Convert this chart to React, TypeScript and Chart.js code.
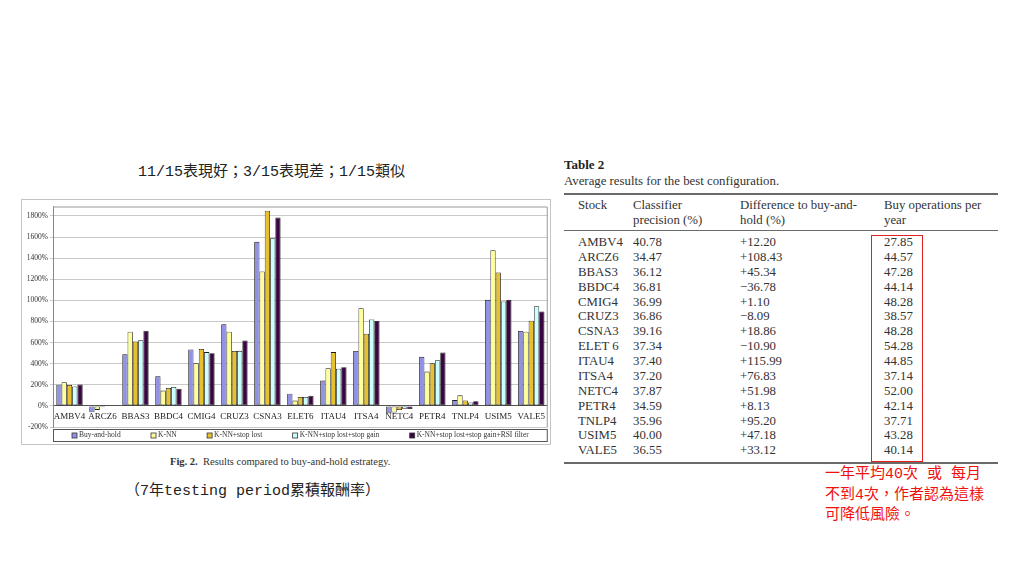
import React, { useEffect, useRef } from 'react';
import { Chart, registerables } from 'chart.js';
Chart.register(...registerables);

// ---------- chart data ----------
const categories = ['AMBV4', 'ARCZ6', 'BBAS3', 'BBDC4', 'CMIG4', 'CRUZ3', 'CSNA3', 'ELET6', 'ITAU4', 'ITSA4', 'NETC4', 'PETR4', 'TNLP4', 'USIM5', 'VALE5'];
const seriesLabels = ['Buy-and-hold', 'K-NN', 'K-NN+stop lost', 'K-NN+stop lost+stop gain', 'K-NN+stop lost+stop gain+RSI filter'];
const buyAndHold = [200, -60, 490, 280, 535, 775, 1555, 115, 240, 520, -70, 465, 55, 1005, 710];
const knn = [225, -38, 703, 145, 405, 703, 1275, 50, 358, 925, -62, 325, 100, 1475, 703];
const knnStopLost = [198, -10, 610, 170, 540, 520, 1850, 85, 510, 685, -40, 405, 52, 1265, 808];
const knnStopGain = [185, 6, 622, 180, 510, 522, 1590, 85, 352, 820, -28, 432, 33, 990, 945];
const knnRsi = [202, 3, 712, 162, 500, 620, 1785, 96, 367, 805, -30, 505, 44, 1005, 895];
const seriesColors = ['#9191e6', '#ffff99', '#e6c02e', '#ccffff', '#3a0642'];
const yMin = -200;
const yMax = 1890;
const yStep = 200;

// ---------- table data ----------
const tableStocks = ['AMBV4', 'ARCZ6', 'BBAS3', 'BBDC4', 'CMIG4', 'CRUZ3', 'CSNA3', 'ELET 6', 'ITAU4', 'ITSA4', 'NETC4', 'PETR4', 'TNLP4', 'USIM5', 'VALE5'];
const tablePrecision = ['40.78', '34.47', '36.12', '36.81', '36.99', '36.86', '39.16', '37.34', '37.40', '37.20', '37.87', '34.59', '35.96', '40.00', '36.55'];
const tableDifference = ['+12.20', '+108.43', '+45.34', '\u221236.78', '+1.10', '\u22128.09', '+18.86', '\u221210.90', '+115.99', '+76.83', '+51.98', '+8.13', '+95.20', '+47.18', '+33.12'];
const tableBuyOps = ['27.85', '44.57', '47.28', '44.14', '48.28', '38.57', '48.28', '54.28', '44.85', '37.14', '52.00', '42.14', '37.71', '43.28', '40.14'];
const tableHeaders = [['Stock', ''], ['Classifier', 'precision (%)'], ['Difference to buy-and-', 'hold (%)'], ['Buy operations per', 'year']];

const colX = [578, 633, 740, 884];
const tableFont = '"Liberation Serif", "DejaVu Serif", serif';
const cjkFont = '"Liberation Mono", "Noto Sans CJK TC", monospace';

const abs = (left: number, top: number, extra: React.CSSProperties = {}): React.CSSProperties => ({
  position: 'absolute', left, top, whiteSpace: 'nowrap', ...extra,
});

function BarChart() {
  const ref = useRef<HTMLCanvasElement>(null);
  useEffect(() => {
    if (!ref.current) return;
    const legendBox = {
      id: 'legendBox',
      afterDraw(chart: any) {
        const { ctx, chartArea } = chart;
        const w = chartArea.right - chartArea.left;
        ctx.save();
        // plot frame
        ctx.strokeStyle = '#9a9a9a';
        ctx.lineWidth = 1;
        ctx.beginPath();
        ctx.moveTo(chartArea.left, chartArea.top + 0.5);
        ctx.lineTo(chartArea.right - 0.5, chartArea.top + 0.5);
        ctx.lineTo(chartArea.right - 0.5, chartArea.bottom);
        ctx.stroke();
        // legend box
        const top = chartArea.bottom + 2;
        const h = 12;
        ctx.strokeStyle = '#555';
        ctx.strokeRect(chartArea.left + 0.5, top + 0.5, w - 1, h);
        ctx.font = '7.5px "Liberation Serif", serif';
        const items = chart.data.datasets.map((ds: any) => ({
          label: ds.label,
          color: ds.backgroundColor,
          w: 7 + ctx.measureText(ds.label).width,
        }));
        const margin = 19;
        const total = items.reduce((s: number, it: any) => s + it.w, 0);
        const gap = (w - 2 * margin - total) / (items.length - 1);
        let x = chartArea.left + margin;
        const cy = top + h / 2 + 0.5;
        ctx.textBaseline = 'middle';
        items.forEach((it: any) => {
          ctx.fillStyle = it.color;
          ctx.fillRect(x, cy - 2.5, 5, 5);
          ctx.strokeStyle = '#333';
          ctx.lineWidth = 0.8;
          ctx.strokeRect(x, cy - 2.5, 5, 5);
          ctx.fillStyle = '#333';
          ctx.fillText(it.label, x + 7, cy);
          x += it.w + gap;
        });
        ctx.restore();
      },
    };
    const seriesValues = [buyAndHold, knn, knnStopLost, knnStopGain, knnRsi];
    const chart = new Chart(ref.current, {
      type: 'bar',
      data: {
        labels: categories,
        datasets: seriesValues.map((vals, i) => ({
          label: seriesLabels[i],
          data: vals,
          backgroundColor: seriesColors[i],
          borderColor: '#1a1a1a',
          borderWidth: 0.8,
          borderSkipped: false,
          categoryPercentage: 0.8,
          barPercentage: 1.0,
        })),
      },
      options: {
        animation: false,
        responsive: true,
        maintainAspectRatio: false,
        layout: { padding: { top: 3, right: 2, bottom: 17, left: 0 } },
        plugins: { legend: { display: false }, tooltip: { enabled: false } },
        scales: {
          x: {
            type: 'category',
            position: { y: 0 } as any,
            grid: { display: false, drawTicks: false },
            border: { display: true, color: '#555', width: 1 },
            ticks: {
              font: { family: 'Liberation Serif', size: 9 },
              color: '#222',
              padding: 5,
              maxRotation: 0,
              autoSkip: false,
            },
          },
          y: {
            min: yMin,
            max: yMax,
            grid: { color: '#c9c9c9', tickLength: 3 },
            border: { display: true, color: '#888' },
            ticks: {
              stepSize: yStep,
              font: { family: 'Liberation Serif', size: 7.5 },
              color: '#333',
              padding: 2,
              callback: (v: any) => `${v}%`,
            },
            afterBuildTicks: (s: any) => {
              s.ticks = s.ticks.filter((t: any) => t.value % yStep === 0);
            },
            afterFit: (s: any) => {
              s.width = 31;
            },
          },
        },
      },
      plugins: [legendBox],
    } as any);
    return () => chart.destroy();
  }, []);
  return <canvas ref={ref} />;
}

export default function App() {
  const rowTop = (i: number) => 242 + i * 14.88 - 8;
  const cell: React.CSSProperties = { fontFamily: tableFont, fontSize: 12.8, color: '#333', lineHeight: '16px' };
  return (
    <div style={{ position: 'absolute', left: 0, top: 0, width: 1024, height: 576, background: '#fff', overflow: 'hidden' }}>
      {/* top annotation */}
      <div style={abs(138, 163, { fontFamily: cjkFont, fontSize: 15, lineHeight: '20px', color: '#222' })}>
        11/15表現好；3/15表現差；1/15類似
      </div>

      {/* chart frame */}
      <div style={abs(21, 199, { width: 528, height: 244, border: '1px solid #c4c4c4' })} />
      <div style={abs(22, 200, { width: 528, height: 244 })}>
        <BarChart />
      </div>
      <div style={abs(170, 455, { fontFamily: tableFont, fontSize: 10.5, color: '#333', lineHeight: '14px' })}>
        <b>Fig. 2.</b>&nbsp; Results compared to buy-and-hold estrategy.
      </div>

      {/* bottom annotation */}
      <div style={abs(125, 482, { fontFamily: cjkFont, fontSize: 15, lineHeight: '20px', color: '#222' })}>
        （7年testing period累積報酬率）
      </div>

      {/* table */}
      <div style={abs(564, 157, { fontFamily: tableFont, fontSize: 13, fontWeight: 'bold', color: '#222', lineHeight: '16px' })}>Table 2</div>
      <div style={abs(564, 173, cell)}>Average results for the best configuration.</div>
      <div style={abs(564, 193, { width: 434, height: 2, background: '#6a6a6a' })} />
      {tableHeaders.map((h, c) => (
        <React.Fragment key={`h${c}`}>
          <div style={abs(colX[c], 197, cell)}>{h[0]}</div>
          {h[1] && <div style={abs(colX[c], 212, cell)}>{h[1]}</div>}
        </React.Fragment>
      ))}
      <div style={abs(564, 230, { width: 434, height: 1, background: '#6a6a6a' })} />
      {tableStocks.map((s, i) => (
        <React.Fragment key={`r${i}`}>
          <div style={abs(colX[0], rowTop(i), cell)}>{s}</div>
          <div style={abs(colX[1], rowTop(i), cell)}>{tablePrecision[i]}</div>
          <div style={abs(colX[2], rowTop(i), cell)}>{tableDifference[i]}</div>
          <div style={abs(colX[3], rowTop(i), cell)}>{tableBuyOps[i]}</div>
        </React.Fragment>
      ))}
      <div style={abs(564, 462, { width: 434, height: 2, background: '#6a6a6a' })} />
      <div style={abs(871, 235, { width: 50, height: 225, border: '1.5px solid #e02020' })} />

      {/* red annotation */}
      <div style={abs(825, 465, { fontFamily: cjkFont, fontSize: 15, lineHeight: '20.5px', color: '#f01010' })}>
        一年平均40次 或 每月<br />不到4次，作者認為這樣<br />可降低風險。
      </div>
    </div>
  );
}
